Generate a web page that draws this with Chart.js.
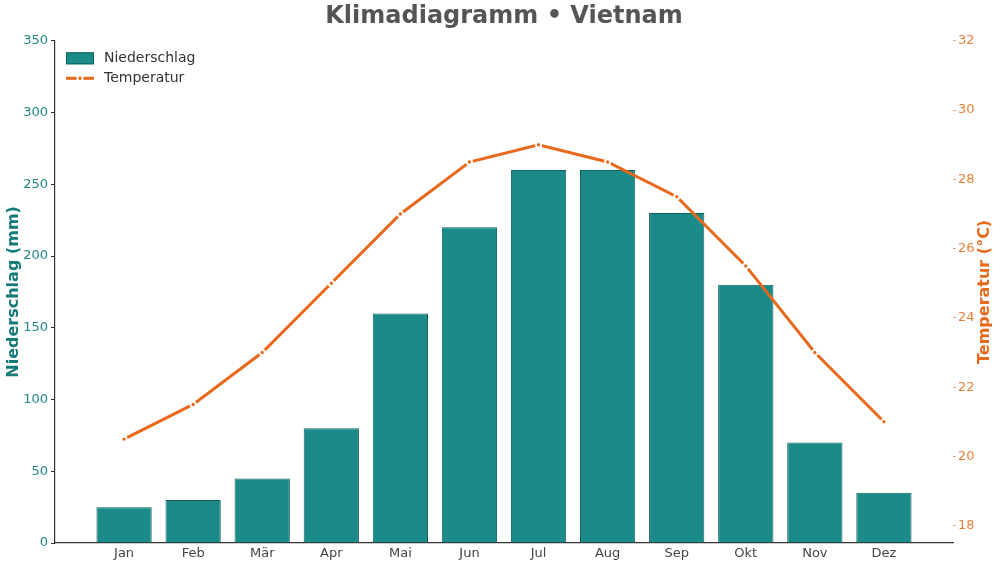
<!DOCTYPE html>
<html>
<head>
<meta charset="utf-8">
<script src="https://cdn.jsdelivr.net/npm/chart.js@4.4.1/dist/chart.umd.min.js"></script>
<style>
html,body{margin:0;padding:0;background:#fff;}
#wrap{width:1000px;height:566px;}
</style>
</head>
<body>
<div id="wrap"><canvas id="c" width="1000" height="566"></canvas></div>
<script>
const months = ['Jan','Feb','Mär','Apr','Mai','Jun','Jul','Aug','Sep','Okt','Nov','Dez'];
const precipitation = [25, 30, 45, 80, 160, 220, 260, 260, 230, 180, 70, 35];
const temperature = [20.5, 21.5, 23, 25, 27, 28.5, 29, 28.5, 27.5, 25.5, 23, 21];
const precipTicks = [0, 50, 100, 150, 200, 250, 300, 350];
const tempTicks = [18, 20, 22, 24, 26, 28, 30, 32];

const TEAL = '#1a8b88';
const ORANGE = '#e8691c';
const FONT = "'DejaVu Sans', sans-serif";

// pad categories with one empty slot on each side
const labels = [''].concat(months, ['']);
const barData = [null].concat(precipitation, [null]);
const lineData = [null].concat(temperature, [null]);

const overlay = {
  id: 'overlay',
  afterDraw(chart) {
    const ctx = chart.ctx;
    const ca = chart.chartArea;
    const ds = chart.data.datasets;
    ctx.save();
    // legend
    const lx = ca.left + 11, y1 = ca.top + 17.5, y2 = ca.top + 37.5;
    ctx.fillStyle = TEAL;
    ctx.strokeStyle = '#12635f';
    ctx.lineWidth = 1;
    ctx.fillRect(lx, y1 - 6, 28, 12);
    ctx.strokeRect(lx + 0.5, y1 - 5.5, 27, 11);
    ctx.strokeStyle = ORANGE;
    ctx.lineWidth = 3;
    ctx.beginPath(); ctx.moveTo(lx, y2); ctx.lineTo(lx + 28, y2); ctx.stroke();
    ctx.beginPath(); ctx.arc(lx + 14, y2, 2.6, 0, Math.PI * 2);
    ctx.fillStyle = ORANGE; ctx.fill();
    ctx.lineWidth = 1.8; ctx.strokeStyle = '#fff'; ctx.stroke();
    ctx.fillStyle = '#333';
    ctx.font = '14px ' + FONT;
    ctx.textBaseline = 'middle';
    ctx.textAlign = 'left';
    ctx.fillText(ds[0].label, lx + 38, y1);
    ctx.fillText(ds[1].label, lx + 38, y2);
    // right axis title (reads bottom to top)
    ctx.translate(985, (ca.top + ca.bottom) / 2);
    ctx.rotate(-Math.PI / 2);
    ctx.textAlign = 'center';
    ctx.fillStyle = ORANGE;
    ctx.font = 'bold 16px ' + FONT;
    ctx.fillText('Temperatur (°C)', 0, 0);
    ctx.restore();
  }
};

new Chart(document.getElementById('c'), {
  data: {
    labels: labels,
    datasets: [
      {
        type: 'bar',
        label: 'Niederschlag',
        data: barData,
        yAxisID: 'y',
        backgroundColor: TEAL,
        borderColor: '#12635f',
        borderWidth: 1,
        barPercentage: 0.8,
        categoryPercentage: 1.0,
        order: 2
      },
      {
        type: 'line',
        label: 'Temperatur',
        data: lineData,
        yAxisID: 'y1',
        borderColor: ORANGE,
        borderWidth: 3,
        tension: 0,
        pointRadius: 2.6,
        pointBorderWidth: 1.8,
        pointBorderColor: '#ffffff',
        pointBackgroundColor: ORANGE,
        order: 1
      }
    ]
  },
  options: {
    responsive: false,
    animation: false,
    devicePixelRatio: 1,
    layout: { padding: 0 },
    plugins: {
      legend: { display: false },
      tooltip: { enabled: false },
      title: {
        display: true,
        text: 'Klimadiagramm • Vietnam',
        fullSize: false,
        color: '#555555',
        font: { family: FONT, size: 24, weight: 'bold' },
        padding: { top: 2, bottom: 10 }
      }
    },
    scales: {
      x: {
        type: 'category',
        offset: false,
        grid: { display: false, drawTicks: false, tickLength: 0 },
        border: { display: true, color: '#333', width: 1.2 },
        ticks: {
          color: '#444',
          font: { family: FONT, size: 13 },
          autoSkip: false,
          maxRotation: 0,
          padding: 3
        },
        afterFit(s) { s.height = 23; }
      },
      y: {
        type: 'linear',
        position: 'left',
        min: 0,
        max: 350,
        afterBuildTicks(s) { s.ticks = precipTicks.map(v => ({ value: v })); },
        grid: { drawOnChartArea: false, drawTicks: true, tickLength: 4, color: '#333' },
        border: { display: true, color: '#333', width: 1.2 },
        ticks: { color: '#1f8785', font: { family: FONT, size: 13 }, padding: 3 },
        title: {
          display: true,
          text: 'Niederschlag (mm)',
          color: '#137a78',
          font: { family: FONT, size: 16, weight: 'bold' },
          padding: { top: 4, bottom: 0 }
        },
        afterFit(s) { s.width = 55; }
      },
      y1: {
        type: 'linear',
        position: 'right',
        min: 17.5,
        max: 32,
        afterBuildTicks(s) { s.ticks = tempTicks.map(v => ({ value: v })); },
        grid: { drawOnChartArea: false, drawTicks: true, tickLength: 3, color: '#f0a070' },
        border: { display: false },
        ticks: { color: '#e8803a', font: { family: FONT, size: 13 }, padding: 2 },
        afterFit(s) { s.width = 47; }
      }
    }
  },
  plugins: [overlay]
});
</script>
</body>
</html>
